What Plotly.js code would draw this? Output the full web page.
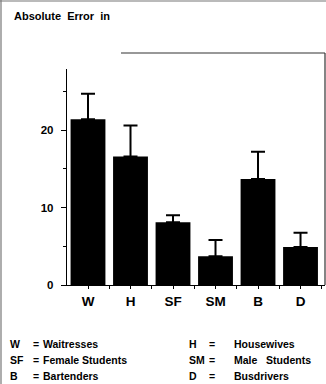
<!DOCTYPE html>
<html>
<head>
<meta charset="utf-8">
<script src="https://cdn.plot.ly/plotly-3.0.1.min.js"></script>
<style>html,body{margin:0;padding:0;background:#fff;}#chart{width:326px;height:384px;}</style>
</head>
<body>
<div id="chart"></div>
<script>
var categories = ["W", "H", "SF", "SM", "B", "D"];
var meanError = [21.4, 16.6, 8.1, 3.7, 13.7, 4.9];
var errorPlus = [3.3, 4.0, 0.9, 2.1, 3.5, 1.85];
var yTickVals = [0, 10, 20];
var legendCodesLeft = ["W", "SF", "B"];
var legendNamesLeft = ["Waitresses", "Female Students", "Bartenders"];
var legendCodesRight = ["H", "SM", "D"];
var legendNamesRight = ["Housewives", "Male\u00a0\u00a0\u00a0Students", "Busdrivers"];
var titleText = "Absolute\u00a0\u00a0Error\u00a0\u00a0in";

var FONT = "Liberation Sans, Arial, sans-serif";
var xIdx = categories.map(function(c, i){ return i; });

var trace = {
  type: "bar",
  x: xIdx,
  y: meanError,
  width: 0.82,
  marker: {color: "#000", line: {width: 0}},
  error_y: {type: "data", array: errorPlus, arrayminus: errorPlus.map(function(){return 0;}), symmetric: false,
            color: "#000", thickness: 2, width: 7},
  hoverinfo: "none"
};

// pixel -> paper conversion helpers (plot area 67..325 x, 69..285 y)
function px(x){ return (x - 67) / 258; }
function py(y){ return (285 - y) / 216; }

var annotations = [{
  text: "<b>" + titleText + "</b>", xref: "paper", yref: "paper",
  x: px(12), y: py(8), xanchor: "left", yanchor: "top", showarrow: false,
  font: {family: FONT, size: 11, color: "#000"}
}];
var rowY = [344, 360, 376];
for (var i = 0; i < 3; i++) {
  annotations.push({text: "<b>" + legendCodesLeft[i] + "</b>", xref: "paper", yref: "paper", x: px(8), y: py(rowY[i]),
    xanchor: "left", yanchor: "middle", showarrow: false, font: {family: FONT, size: 10.5, color: "#000"}});
  annotations.push({text: "<b>=</b>", xref: "paper", yref: "paper", x: px(31), y: py(rowY[i]),
    xanchor: "left", yanchor: "middle", showarrow: false, font: {family: FONT, size: 10.5, color: "#000"}});
  annotations.push({text: "<b>" + legendNamesLeft[i] + "</b>", xref: "paper", yref: "paper", x: px(41), y: py(rowY[i]),
    xanchor: "left", yanchor: "middle", showarrow: false, font: {family: FONT, size: 10.5, color: "#000"}});
  annotations.push({text: "<b>" + legendCodesRight[i] + "</b>", xref: "paper", yref: "paper", x: px(187), y: py(rowY[i]),
    xanchor: "left", yanchor: "middle", showarrow: false, font: {family: FONT, size: 10.5, color: "#000"}});
  annotations.push({text: "<b>=</b>", xref: "paper", yref: "paper", x: px(207), y: py(rowY[i]),
    xanchor: "left", yanchor: "middle", showarrow: false, font: {family: FONT, size: 10.5, color: "#000"}});
  annotations.push({text: "<b>" + legendNamesRight[i] + "</b>", xref: "paper", yref: "paper", x: px(232), y: py(rowY[i]),
    xanchor: "left", yanchor: "middle", showarrow: false, font: {family: FONT, size: 10.5, color: "#000"}});
}

var shapes = [
  {type: "line", xref: "paper", yref: "paper", x0: px(121), x1: px(325), y0: py(53), y1: py(53), line: {color: "#333", width: 1.2}},
  {type: "line", xref: "paper", yref: "paper", x0: px(325), x1: px(325), y0: py(53), y1: py(285), line: {color: "#333", width: 1.2}},
  {type: "line", xref: "paper", yref: "paper", x0: px(1), x1: px(1), y0: py(0), y1: py(384), line: {color: "#777", width: 1.2}},
  {type: "line", xref: "paper", yref: "paper", x0: px(0), x1: px(326), y0: py(1), y1: py(1), line: {color: "#777", width: 1.2}}
];

var layout = {
  width: 326, height: 384,
  margin: {l: 67, r: 1, t: 69, b: 99, pad: 0},
  paper_bgcolor: "#fff", plot_bgcolor: "#fff",
  showlegend: false,
  xaxis: {
    range: [-0.494, 5.576], tickvals: xIdx, ticktext: categories.map(function(c){return "<b>" + c + "</b>";}),
    showline: true, linecolor: "#000", linewidth: 1.2, ticks: "outside", ticklen: 3, tickwidth: 1, tickcolor: "#000",
    showgrid: false, zeroline: false, fixedrange: true, ticklabelstandoff: 1,
    minor: {tick0: 0.5, dtick: 1, ticks: "outside", ticklen: 3, tickcolor: "#000", showgrid: false},
    tickfont: {family: FONT, size: 13.5, color: "#000"}
  },
  yaxis: {
    range: [0, 27.9], tickvals: yTickVals, ticktext: yTickVals.map(function(v){return "<b>" + v + "</b>";}),
    showline: true, linecolor: "#000", linewidth: 1.2, ticks: "outside", ticklen: 5, tickwidth: 1, tickcolor: "#000",
    showgrid: false, zeroline: false, fixedrange: true, ticklabelstandoff: 5,
    minor: {tick0: 5, dtick: 10, ticks: "outside", ticklen: 3, tickcolor: "#000", showgrid: false},
    tickfont: {family: FONT, size: 11.5, color: "#000"}
  },
  annotations: annotations,
  shapes: shapes
};

Plotly.newPlot("chart", [trace], layout, {staticPlot: true, displayModeBar: false});
</script>
</body>
</html>
